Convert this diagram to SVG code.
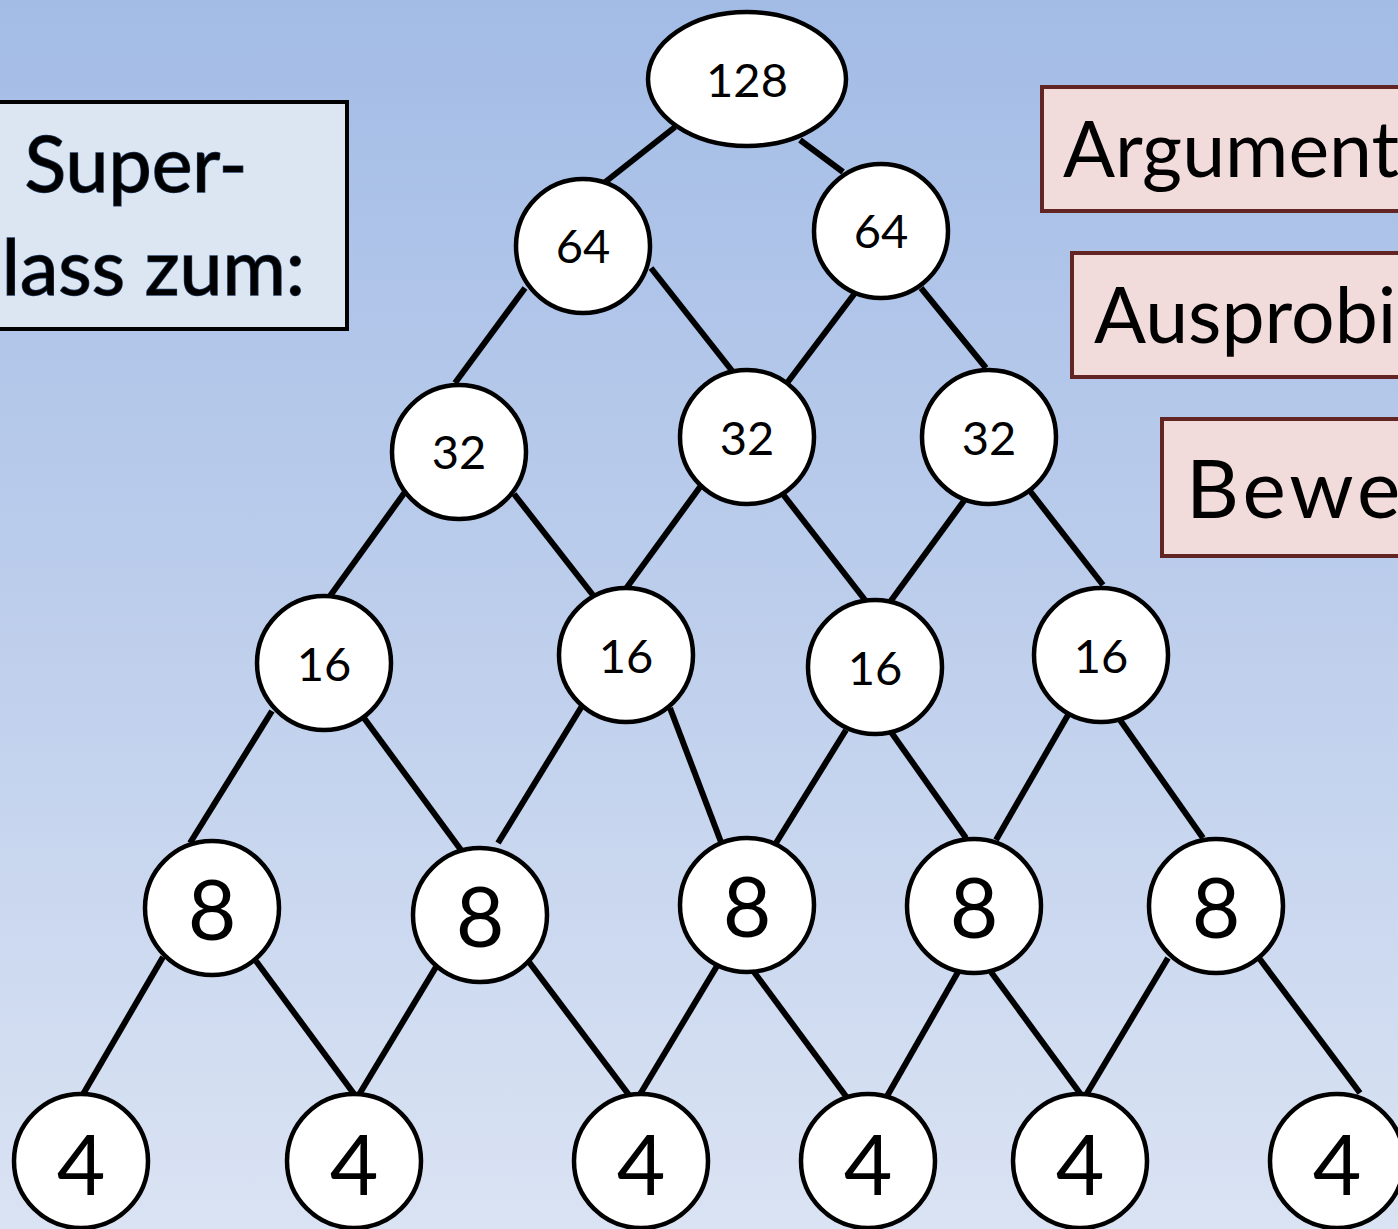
<svg xmlns="http://www.w3.org/2000/svg" width="1398" height="1229" viewBox="0 0 1398 1229">
  <defs>
    <linearGradient id="bg" x1="0" y1="0" x2="0" y2="1">
      <stop offset="0" stop-color="#A3BCE6"/>
      <stop offset="0.5" stop-color="#BDCEEC"/>
      <stop offset="1" stop-color="#DAE3F3"/>
    </linearGradient>
    <style>
      .edge { stroke: #000; stroke-width: 6; stroke-linecap: butt; fill: none; }
      .node { fill: #FFFFFF; stroke: #000; stroke-width: 4.5; }
      .num { font-family: Lato, "Open Sans", sans-serif; fill: #000; text-anchor: middle; }
      .s { font-size: 47px; }
      .l { font-size: 84px; }
      .blue { fill: #DCE6F2; stroke: #000; stroke-width: 4; }
      .red { fill: #F2DCDB; stroke: #632523; stroke-width: 4; }
      .big { font-family: Lato, "Open Sans", sans-serif; font-size: 77px; fill: #000; }
      .outl { stroke: #1F3A5F; stroke-width: 1.5; paint-order: stroke; }
    </style>
  </defs>

  <rect x="0" y="0" width="1398" height="1229" fill="url(#bg)"/>

  <!-- text boxes -->
  <g id="box-super">
    <rect class="blue" x="-10" y="102" width="357" height="227"/>
    <text class="big outl" x="136" y="192" text-anchor="middle">Super-</text>
    <text class="big outl" x="305" y="295" text-anchor="end">lass zum:</text>
  </g>
  <g id="box-argument">
    <rect class="red" x="1042" y="87" width="370" height="124"/>
    <text class="big" x="1063" y="177">Argument</text>
  </g>
  <g id="box-ausprobi">
    <rect class="red" x="1072" y="253" width="340" height="124"/>
    <text class="big" x="1094" y="343">Ausprobi</text>
  </g>
  <g id="box-bewe">
    <rect class="red" x="1162" y="419" width="250" height="137"/>
    <text class="big" x="1186" y="518" style="font-size:82px;letter-spacing:4px">Bewe</text>
  </g>

  <!-- connectors -->
  <g id="connectors">
    <line class="edge" x1="675" y1="127" x2="604" y2="183"/>
    <line class="edge" x1="800" y1="140" x2="843" y2="172"/>
    <line class="edge" x1="525" y1="288" x2="455" y2="383"/>
    <line class="edge" x1="651" y1="268" x2="733" y2="372"/>
    <line class="edge" x1="855" y1="293" x2="787" y2="383"/>
    <line class="edge" x1="921" y1="288" x2="986" y2="368"/>
    <line class="edge" x1="405" y1="492" x2="330" y2="596"/>
    <line class="edge" x1="514" y1="494" x2="596" y2="599"/>
    <line class="edge" x1="700" y1="487" x2="625" y2="590"/>
    <line class="edge" x1="782" y1="493" x2="865" y2="600"/>
    <line class="edge" x1="966" y1="498" x2="890" y2="602"/>
    <line class="edge" x1="1030" y1="491" x2="1103" y2="585"/>
    <line class="edge" x1="272" y1="711" x2="190" y2="843"/>
    <line class="edge" x1="364" y1="718" x2="461" y2="850"/>
    <line class="edge" x1="582" y1="706" x2="498" y2="843"/>
    <line class="edge" x1="670" y1="708" x2="721" y2="842"/>
    <line class="edge" x1="846" y1="730" x2="776" y2="843"/>
    <line class="edge" x1="891" y1="732" x2="966" y2="838"/>
    <line class="edge" x1="1068" y1="715" x2="996" y2="840"/>
    <line class="edge" x1="1120" y1="720" x2="1203" y2="838"/>
    <line class="edge" x1="163" y1="957" x2="82" y2="1096"/>
    <line class="edge" x1="256" y1="961" x2="357" y2="1098"/>
    <line class="edge" x1="436" y1="967" x2="357" y2="1098"/>
    <line class="edge" x1="529" y1="962" x2="632" y2="1099"/>
    <line class="edge" x1="717" y1="966" x2="636" y2="1101"/>
    <line class="edge" x1="754" y1="972" x2="848" y2="1099"/>
    <line class="edge" x1="958" y1="972" x2="886" y2="1098"/>
    <line class="edge" x1="991" y1="972" x2="1082" y2="1096"/>
    <line class="edge" x1="1168" y1="958" x2="1086" y2="1095"/>
    <line class="edge" x1="1259" y1="958" x2="1360" y2="1093"/>
  </g>

  <!-- nodes -->
  <g id="n128"><ellipse class="node" cx="747" cy="79" rx="99" ry="67"/><text class="num s" x="747" y="97">128</text></g>

  <g id="n64a"><circle class="node" cx="583" cy="246" r="67"/><text class="num s" x="583" y="263">64</text></g>
  <g id="n64b"><circle class="node" cx="881" cy="231" r="67"/><text class="num s" x="881" y="248">64</text></g>

  <g id="n32a"><circle class="node" cx="459" cy="452" r="67"/><text class="num s" x="459" y="469">32</text></g>
  <g id="n32b"><circle class="node" cx="747" cy="437" r="67"/><text class="num s" x="747" y="455">32</text></g>
  <g id="n32c"><circle class="node" cx="989" cy="437" r="67"/><text class="num s" x="989" y="455">32</text></g>

  <g id="n16a"><circle class="node" cx="324" cy="663" r="67"/><text class="num s" x="324" y="681">16</text></g>
  <g id="n16b"><circle class="node" cx="626" cy="655" r="67"/><text class="num s" x="626" y="673">16</text></g>
  <g id="n16c"><circle class="node" cx="875" cy="667" r="67"/><text class="num s" x="875" y="685">16</text></g>
  <g id="n16d"><circle class="node" cx="1101" cy="655" r="67"/><text class="num s" x="1101" y="673">16</text></g>

  <g id="n8a"><circle class="node" cx="212" cy="908" r="67"/><text class="num l" x="212" y="940">8</text></g>
  <g id="n8b"><circle class="node" cx="480" cy="915" r="67"/><text class="num l" x="480" y="947">8</text></g>
  <g id="n8c"><circle class="node" cx="747" cy="905" r="67"/><text class="num l" x="747" y="937">8</text></g>
  <g id="n8d"><circle class="node" cx="974" cy="906" r="67"/><text class="num l" x="974" y="938">8</text></g>
  <g id="n8e"><circle class="node" cx="1216" cy="906" r="67"/><text class="num l" x="1216" y="938">8</text></g>

  <g id="n4a"><circle class="node" cx="81" cy="1161" r="67"/><text class="num l" x="81" y="1195">4</text></g>
  <g id="n4b"><circle class="node" cx="354" cy="1161" r="67"/><text class="num l" x="354" y="1195">4</text></g>
  <g id="n4c"><circle class="node" cx="641" cy="1161" r="67"/><text class="num l" x="641" y="1195">4</text></g>
  <g id="n4d"><circle class="node" cx="868" cy="1161" r="67"/><text class="num l" x="868" y="1195">4</text></g>
  <g id="n4e"><circle class="node" cx="1080" cy="1161" r="67"/><text class="num l" x="1080" y="1195">4</text></g>
  <g id="n4f"><circle class="node" cx="1337" cy="1161" r="67"/><text class="num l" x="1337" y="1195">4</text></g>
</svg>
